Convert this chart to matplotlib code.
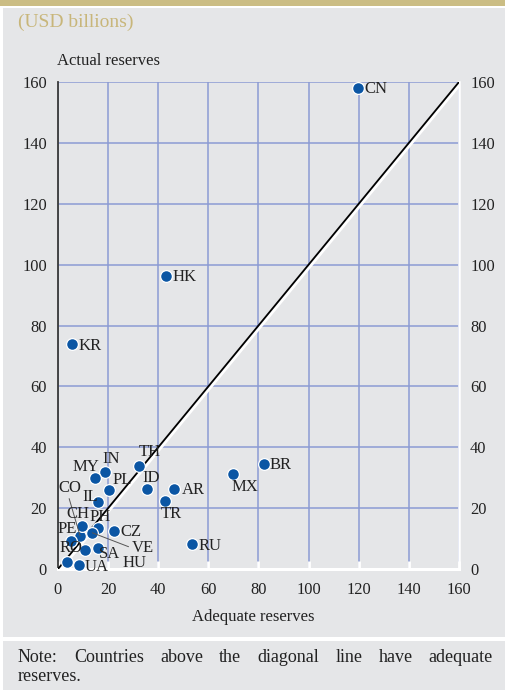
import matplotlib
matplotlib.use('Agg')
import matplotlib.pyplot as plt
import matplotlib.patches as mpatches
import matplotlib.patheffects as pe

plt.rcParams['font.family'] = ['Liberation Serif', 'DejaVu Serif']

# ---- data ----
countries = ['CN', 'HK', 'KR', 'BR', 'MX', 'RU', 'TH', 'IN', 'MY', 'PL', 'ID', 'AR', 'TR', 'IL',
             'CO', 'CH', 'PH', 'PE', 'CZ', 'VE', 'RO', 'SA', 'HU', 'UA']
adequate = [119.7, 43.1, 5.6, 82.2, 69.8, 53.5, 32.2, 18.9, 14.6, 20.2, 35.6, 46.3, 42.8, 16.0,
            8.8, 9.7, 15.8, 5.1, 22.5, 13.7, 3.7, 15.8, 10.8, 8.5]
actual = [158.0, 96.3, 73.9, 34.5, 31.3, 8.2, 33.9, 32.0, 29.9, 26.0, 26.2, 26.4, 22.3, 22.0,
          10.9, 14.2, 13.6, 9.2, 12.6, 11.9, 2.4, 7.0, 6.2, 1.3]
ticks = [0, 20, 40, 60, 80, 100, 120, 140, 160]

# label offsets in pixels (dx, dy) from the point, and whether a leader line is drawn
label_offsets = {
    'CN': (6, -1), 'HK': (6, -1), 'KR': (6, -2), 'BR': (6, -1), 'MX': (-1, -13),
    'RU': (6, -2), 'TH': (0, 14), 'IN': (-3, 13), 'MY': (-22, 11), 'PL': (4, 10),
    'ID': (-5, 11), 'AR': (8, -1), 'TR': (-5, -13), 'IL': (-16, 5), 'CO': (-22, 48),
    'CH': (-16, 12), 'PH': (-8, 11), 'PE': (-13, 12), 'CZ': (6, -1), 'VE': (39, -15),
    'RO': (-8, 14), 'SA': (1, -6), 'HU': (37, -13), 'UA': (5, -2),
}
leaders = {'CO': (0.45, 0.0), 'VE': (0.0, 0.5)}

W, H = 506, 690
fig = plt.figure(figsize=(W / 100, H / 100), dpi=100)
fig.patch.set_facecolor('white')

gray = '#e5e6e8'
gold = '#cbbd84'
# top gold band
fig.patches.append(mpatches.Rectangle((0, 1 - 6 / H), 1, 6 / H, transform=fig.transFigure,
                                      facecolor=gold, edgecolor='none', zorder=-10))
# main gray panel
fig.patches.append(mpatches.Rectangle((3 / W, 1 - 637 / H), 502 / W, (637 - 8) / H,
                                      transform=fig.transFigure, facecolor=gray,
                                      edgecolor='none', zorder=-10))
# note panel
fig.patches.append(mpatches.Rectangle((3 / W, 0), 502 / W, (H - 641) / H,
                                      transform=fig.transFigure, facecolor=gray,
                                      edgecolor='none', zorder=-10))

ax = fig.add_axes([58 / W, 1 - 569 / H, (459 - 58) / W, (569 - 82) / H])
ax.set_facecolor('none')
ax.set_xlim(0, 160)
ax.set_ylim(0, 160)
ax.set_xticks(ticks)
ax.set_yticks(ticks)

ax.grid(True, color='#8c9bd4', lw=1.1)
ax.set_axisbelow(True)

ax.spines['top'].set_visible(False)
ax.spines['left'].set_color('#3a3a3a')
ax.spines['left'].set_linewidth(1.3)
ax.spines['bottom'].set_color('white')
ax.spines['bottom'].set_linewidth(2.2)
ax.spines['right'].set_color('white')
ax.spines['right'].set_linewidth(1.8)

ax.tick_params(axis='x', direction='in', length=6, width=2, color='white',
               labelsize=11.8, pad=9, labelcolor='#222222')
ax.tick_params(axis='y', length=0, labelsize=11.8, pad=8, labelcolor='#222222',
               left=False, right=False, labelleft=True, labelright=True)

# diagonal
ax.plot([0, 160], [0, 160], color='black', lw=1.3, zorder=3, solid_capstyle='butt',
        path_effects=[pe.Stroke(linewidth=2.0, foreground='white', offset=(1.2, -1.2)),
                      pe.Normal()])

ax.scatter(adequate, actual, s=72, color='#0b56a4', edgecolor='white', linewidth=0.9,
           zorder=5, clip_on=False)

for c, x, y in zip(countries, adequate, actual):
    dx, dy = label_offsets[c]
    kw = {}
    if c in leaders:
        kw['arrowprops'] = dict(arrowstyle='-', lw=0.7, color='#555555',
                                shrinkA=0, shrinkB=0, relpos=leaders[c])
    ax.annotate(c, xy=(x, y), xytext=(dx, dy), textcoords='offset pixels',
                ha='left', va='center', fontsize=12, color='#222222', zorder=6, **kw)

# texts
fig.text(18 / W, 1 - 27 / H, '(USD billions)', fontsize=14, color='#c8b67a',
         ha='left', va='baseline')
fig.text(57 / W, 1 - 65 / H, 'Actual reserves', fontsize=12, color='#222222',
         ha='left', va='baseline')
fig.text(253 / W, 1 - 617 / H, 'Adequate reserves', fontsize=12, color='#222222',
         ha='center', va='center')

# justified note
fig.canvas.draw()
renderer = fig.canvas.get_renderer()
words = 'Note: Countries above the diagonal line have adequate'.split()
fs_note = 13
widths = []
for w_ in words:
    t = fig.text(0, 0, w_, fontsize=fs_note)
    bb = t.get_window_extent(renderer)
    widths.append(bb.width)
    t.remove()
x0, x1 = 18, 493
gap = (x1 - x0 - sum(widths)) / (len(words) - 1)
xp = x0
for w_, wd in zip(words, widths):
    fig.text(xp / W, 1 - 662 / H, w_, fontsize=fs_note, color='#222222',
             ha='left', va='baseline')
    xp += wd + gap
fig.text(18 / W, 1 - 681 / H, 'reserves.', fontsize=fs_note, color='#222222',
         ha='left', va='baseline')

fig.savefig('out.png', dpi=100, facecolor='white')
